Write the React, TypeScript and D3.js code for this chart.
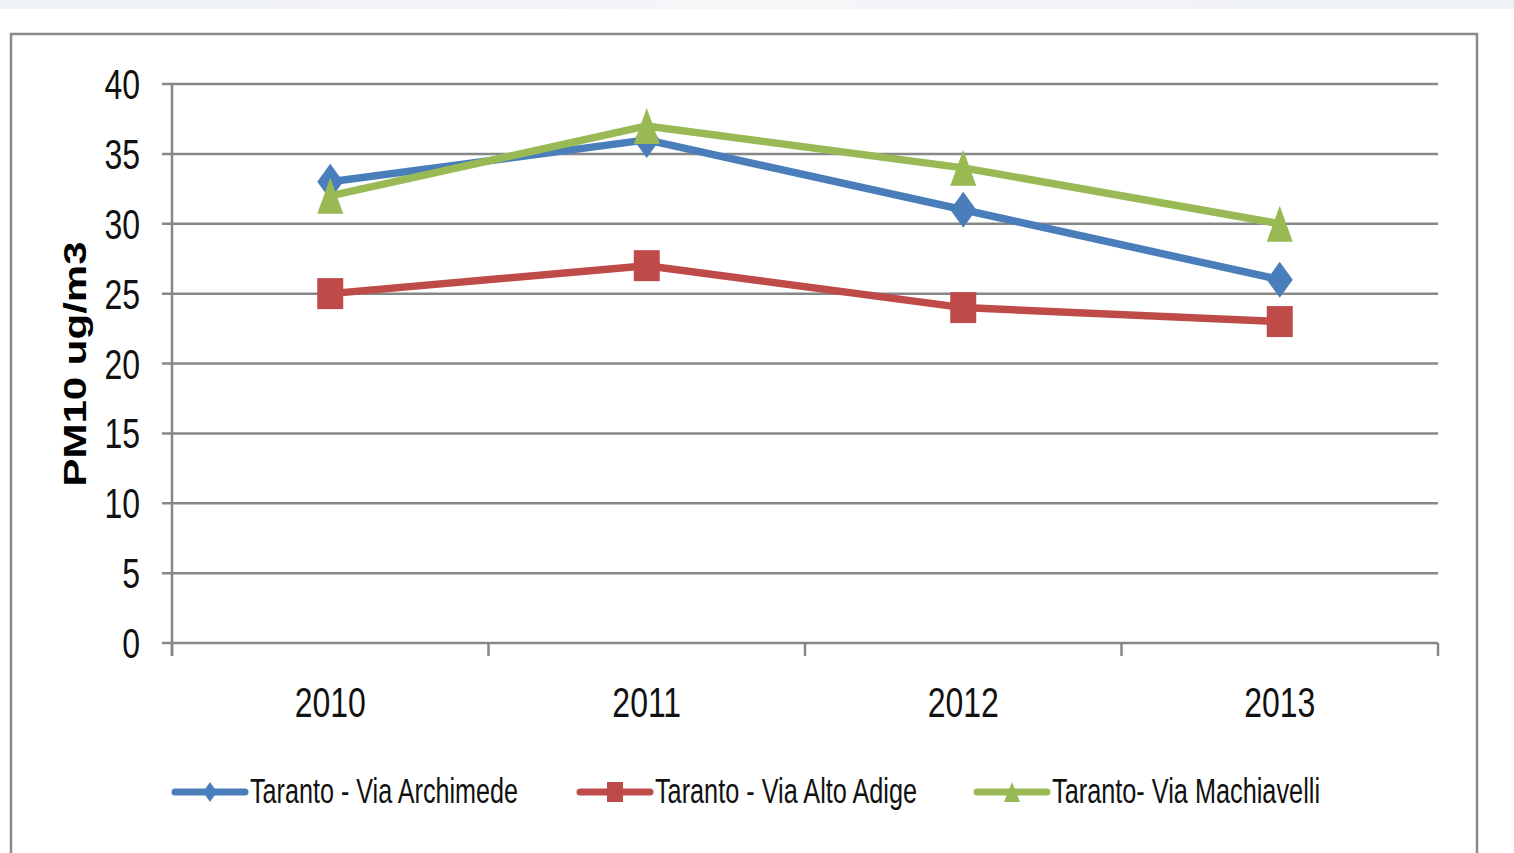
import React from "react";
import * as d3 from "d3";

const years = ["2010", "2011", "2012", "2013"];
const yTicks = [0, 5, 10, 15, 20, 25, 30, 35, 40];
const archimede = [33, 36, 31, 26];
const altoAdige = [25, 27, 24, 23];
const machiavelli = [32, 37, 34, 30];
const seriesNames = ["Taranto - Via Archimede", "Taranto - Via Alto Adige", "Taranto- Via Machiavelli"];
const seriesColors = ["#4a7ebb", "#be4b48", "#98b954"];
const yTitle = "PM10 ug/m3";

const W = 1514;
const H = 853;
const FONT = "'Liberation Sans Narrow', 'Arial Narrow', 'Liberation Sans', Arial, sans-serif";

function markerPath(kind: string, w: number, h: number): string {
  const hw = w / 2, hh = h / 2;
  if (kind === "diamond") return `M0,${-hh}L${hw},0L0,${hh}L${-hw},0Z`;
  if (kind === "square") return `M${-hw},${-hh}H${hw}V${hh}H${-hw}Z`;
  return `M0,${-hh}L${hw},${hh}L${-hw},${hh}Z`;
}

export default function App() {
  const x = d3.scaleBand<string>().domain(years).range([172, 1438]).paddingInner(0).paddingOuter(0);
  const y = d3.scaleLinear().domain([0, 40]).range([643, 84]);
  const cx = (d: string) => (x(d) as number) + x.bandwidth() / 2;
  const line = d3.line<number>().x((_, i) => cx(years[i])).y((v) => y(v));
  const data = [archimede, altoAdige, machiavelli];
  const kinds = ["diamond", "square", "triangle"];
  const markerSize = [[26, 36], [26, 31], [26, 36]];
  const legendMarker = [[14, 20], [16, 20], [16, 20]];
  const legendX = [175, 580, 977];
  const legendTextX = [250, 655, 1052];
  const legendTextW = [268, 262, 268];
  const boundaries = years.map((d) => x(d) as number).concat([1438]);
  const sy = 1.3;

  return (
    <svg width={W} height={H} style={{ position: "absolute", left: 0, top: 0, background: "#fff" }}>
      <defs>
        <linearGradient id="topstrip" x1="0" x2="1" y1="0" y2="0">
          <stop offset="0" stopColor="#eef1f5" />
          <stop offset="0.5" stopColor="#f5f6f8" />
          <stop offset="1" stopColor="#eef1f5" />
        </linearGradient>
      </defs>
      <rect x={0} y={0} width={W} height={9} fill="url(#topstrip)" />
      <rect x={11} y={34} width={1466} height={840} fill="#fff" stroke="#8a8a8a" strokeWidth={2.5} />
      {yTicks.map((t) => (
        <line key={t} x1={162} x2={1438} y1={y(t)} y2={y(t)} stroke="#878787" strokeWidth={2.5} />
      ))}
      <line x1={172} x2={172} y1={y(40)} y2={656} stroke="#878787" strokeWidth={2.5} />
      {boundaries.map((b, i) => (
        <line key={i} x1={b} x2={b} y1={643} y2={656} stroke="#878787" strokeWidth={2.5} />
      ))}
      {yTicks.map((t) => (
        <text key={t} transform={`translate(140,${y(t) + 15}) scale(1,${sy})`} textAnchor="end"
          fontFamily={FONT} fontSize={32} fill="#111">{t}</text>
      ))}
      {years.map((d) => (
        <text key={d} transform={`translate(${cx(d)},717) scale(1,${sy})`} textAnchor="middle"
          fontFamily={FONT} fontSize={32} fill="#111">{d}</text>
      ))}
      <text transform={`translate(86,364) rotate(-90)`} textAnchor="middle" fontFamily="'Liberation Sans', Arial, sans-serif"
        fontWeight="bold" fontSize={31} textLength={245} lengthAdjust="spacingAndGlyphs" fill="#000">{yTitle}</text>
      {data.map((s, si) => (
        <g key={si}>
          <path d={line(s) as string} fill="none" stroke={seriesColors[si]} strokeWidth={7.5} strokeLinejoin="round" />
          {s.map((v, i) => (
            <path key={i} transform={`translate(${cx(years[i])},${y(v)})`}
              d={markerPath(kinds[si], markerSize[si][0], markerSize[si][1])} fill={seriesColors[si]} />
          ))}
        </g>
      ))}
      {seriesNames.map((n, i) => (
        <g key={n}>
          <line x1={legendX[i]} x2={legendX[i] + 70} y1={792} y2={792} stroke={seriesColors[i]} strokeWidth={7} strokeLinecap="round" />
          <path transform={`translate(${legendX[i] + 35},792)`} d={markerPath(kinds[i], legendMarker[i][0], legendMarker[i][1])} fill={seriesColors[i]} />
          <text transform={`translate(${legendTextX[i]},803) scale(1,1.15)`} fontFamily={FONT} fontSize={30}
            textLength={legendTextW[i]} lengthAdjust="spacingAndGlyphs" fill="#111">{n}</text>
        </g>
      ))}
    </svg>
  );
}
